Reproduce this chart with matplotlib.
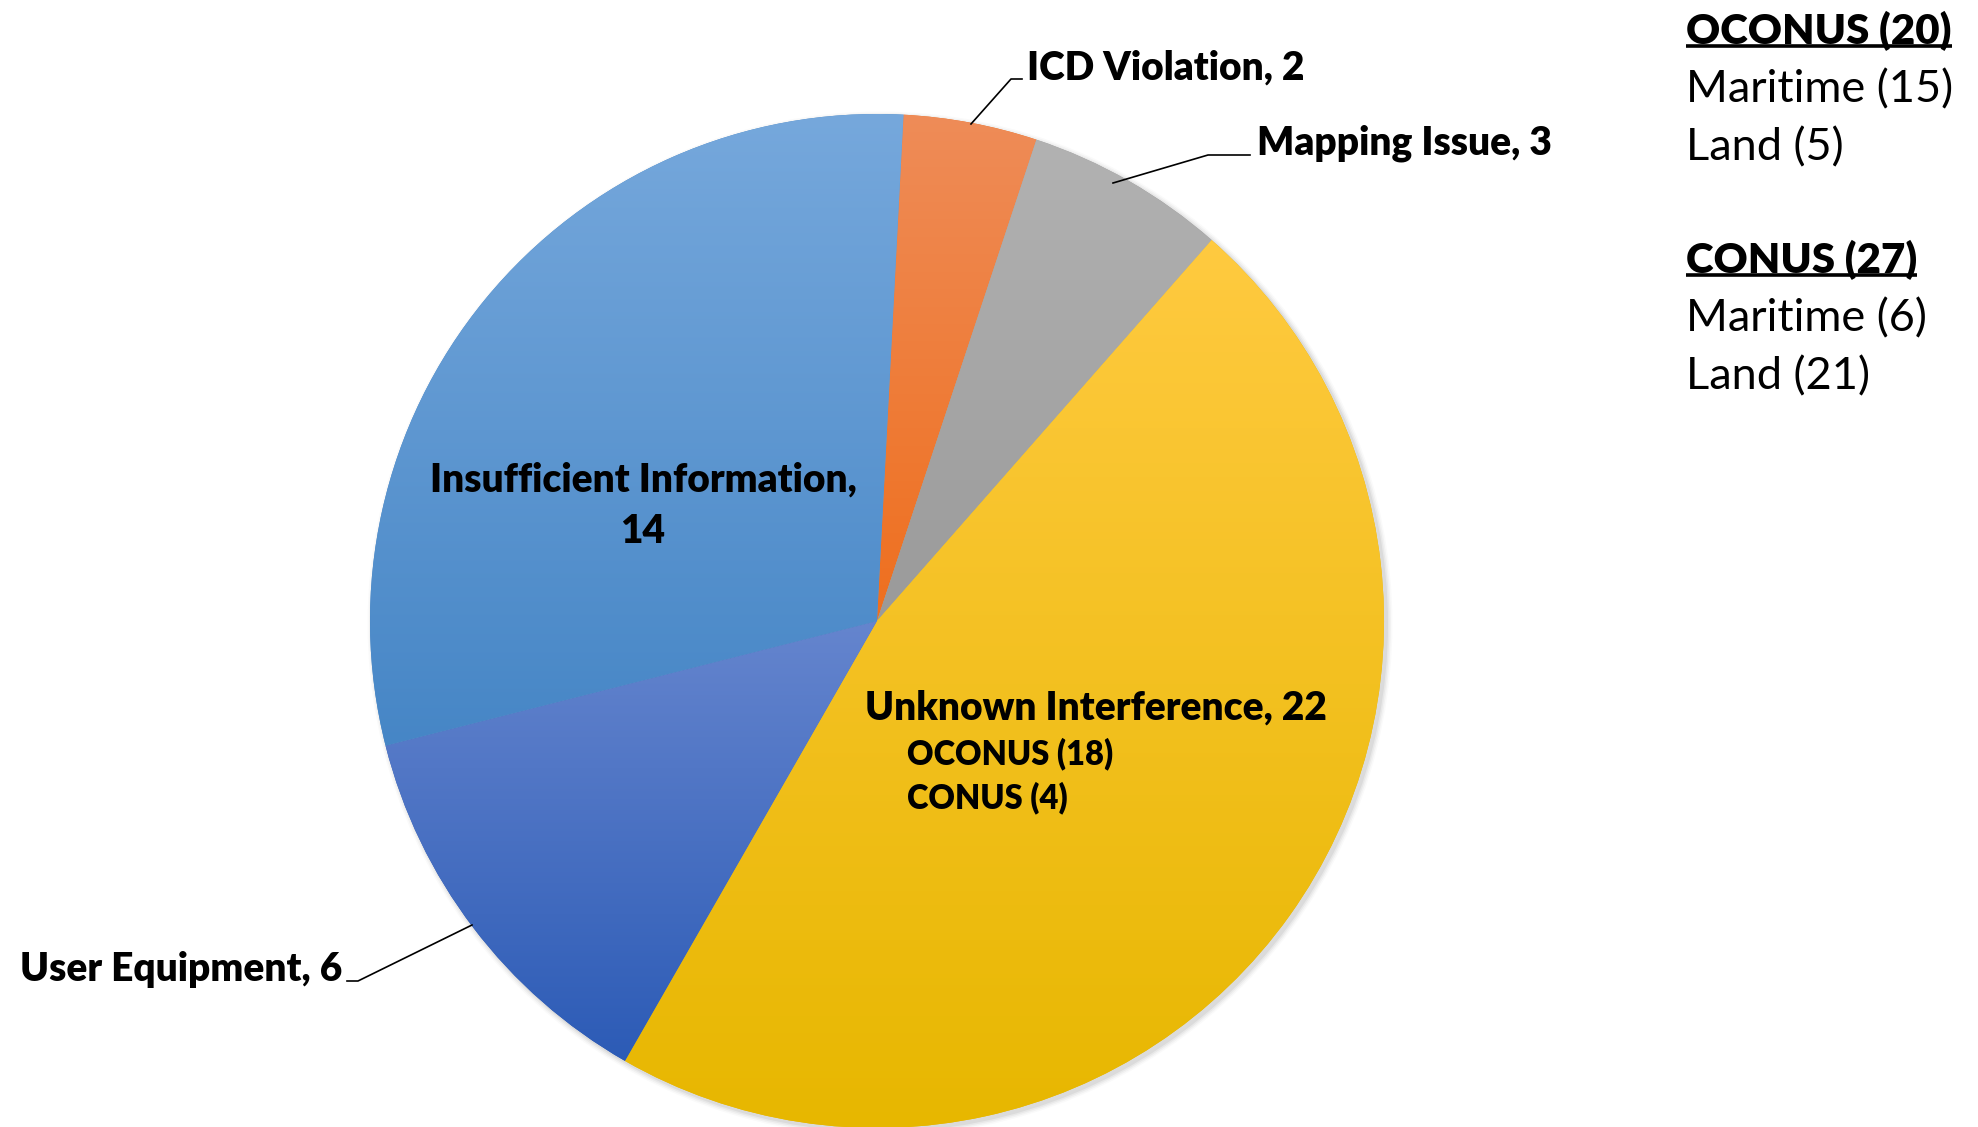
import matplotlib
matplotlib.use("Agg")
import matplotlib.pyplot as plt
import numpy as np
from matplotlib.colors import LinearSegmentedColormap
from matplotlib.patches import Circle

plt.rcParams['font.family'] = ['Lato', 'DejaVu Sans']

# ---- data ----
categories = ["ICD Violation", "Mapping Issue", "Unknown Interference",
              "User Equipment", "Insufficient Information"]
values = [2, 3, 22, 6, 14]
top_colors = ["#EF8C58", "#B2B2B2", "#FFCA40", "#6585CE", "#76A8DC"]
bottom_colors = ["#EE6F1E", "#9A9A9A", "#E7B700", "#2C5BB6", "#4686C6"]

unknown_sub = ["OCONUS (18)", "CONUS (4)"]
side_groups = [("OCONUS (20)", ["Maritime (15)", "Land (5)"]),
               ("CONUS (27)", ["Maritime (6)", "Land (21)"])]

W, H = 1978, 1127
fig = plt.figure(figsize=(W / 100, H / 100), dpi=100)
ax = fig.add_axes([0, 0, 1, 1])
ax.set_xlim(0, W)
ax.set_ylim(0, H)
ax.set_aspect('equal')
ax.axis('off')

def Y(y):
    return H - y

cx, cy, R = 877, Y(621), 507

# soft shadow
for i, a in enumerate([0.05, 0.04, 0.03, 0.02]):
    ax.add_patch(Circle((cx + 3, cy - 3), R + 1 + i * 1.5, color='black', alpha=a, lw=0, zorder=0))

wedges, _ = ax.pie(values, startangle=87, counterclock=False, center=(cx, cy), radius=R,
                   colors=bottom_colors, wedgeprops=dict(linewidth=0), frame=True)
ax.set_xlim(0, W)
ax.set_ylim(0, H)
ax.axis('off')

for w, ct, cb in zip(wedges, top_colors, bottom_colors):
    verts = w.get_path().vertices
    ymin, ymax = verts[:, 1].min(), verts[:, 1].max()
    ymin = max(ymin, cy - R)
    ymax = min(ymax, cy + R)
    cmap = LinearSegmentedColormap.from_list("g", [cb, ct])
    grad = np.linspace(0, 1, 256).reshape(-1, 1)
    im = ax.imshow(grad, cmap=cmap, extent=(cx - R, cx + R, ymin, ymax), origin='lower',
                   aspect='auto', zorder=2, interpolation='bilinear')
    im.set_clip_path(w)
ax.set_xlim(0, W)
ax.set_ylim(0, H)

# outside labels with leader lines
lab_fs = 28
wt = 'heavy'
ax.text(1027, Y(68), f"{categories[0]}, {values[0]}", fontsize=lab_fs, fontweight=wt,
        ha='left', va='center', zorder=5)
ax.plot([971, 1011, 1022], [Y(124), Y(79), Y(79)], color='black', lw=1.2, zorder=5)

ax.text(1257, Y(143), f"{categories[1]}, {values[1]}", fontsize=lab_fs, fontweight=wt,
        ha='left', va='center', zorder=5)
ax.plot([1113, 1208, 1250], [Y(183), Y(155), Y(155)], color='black', lw=1.2, zorder=5)

ax.text(342, Y(970), f"{categories[3]}, {values[3]}", fontsize=lab_fs, fontweight=wt,
        ha='right', va='center', zorder=5)
ax.plot([347, 358, 472], [Y(981), Y(981), Y(925)], color='black', lw=1.2, zorder=5)

# inside labels
ax.text(643, Y(506), f"{categories[4]},\n{values[4]}", fontsize=lab_fs, fontweight=wt,
        ha='center', va='center', linespacing=1.49, zorder=5)
ax.text(865, Y(708), f"{categories[2]}, {values[2]}", fontsize=lab_fs, fontweight=wt,
        ha='left', va='center', zorder=5)
ax.text(907, Y(754), unknown_sub[0], fontsize=23.5, fontweight=wt, ha='left', va='center', zorder=5)
ax.text(907, Y(798), unknown_sub[1], fontsize=23.5, fontweight=wt, ha='left', va='center', zorder=5)

# side text
side_fs = 32.5
head_fs = 30.2
head_y = [31, 260]
step = 58.5
heads = []
for (head, items), y0 in zip(side_groups, head_y):
    t = ax.text(1686, Y(y0), head, fontsize=head_fs, fontweight=wt, ha='left',
                va='center', zorder=5)
    heads.append(t)
    for k, it in enumerate(items):
        ax.text(1686, Y(y0 + step * (k + 1)), it, fontsize=side_fs, ha='left', va='center', zorder=5)

fig.canvas.draw()
r = fig.canvas.get_renderer()
inv = ax.transData.inverted()
for t in heads:
    bb = t.get_window_extent(renderer=r)
    (x0, y0), (x1, y1) = inv.transform([[bb.x0, bb.y0], [bb.x1, bb.y1]])
    ax.plot([x0, x1], [y0 + 5, y0 + 5], color='black', lw=2.6, zorder=5, solid_capstyle='butt')

fig.savefig("out.png", dpi=100, facecolor='white')
